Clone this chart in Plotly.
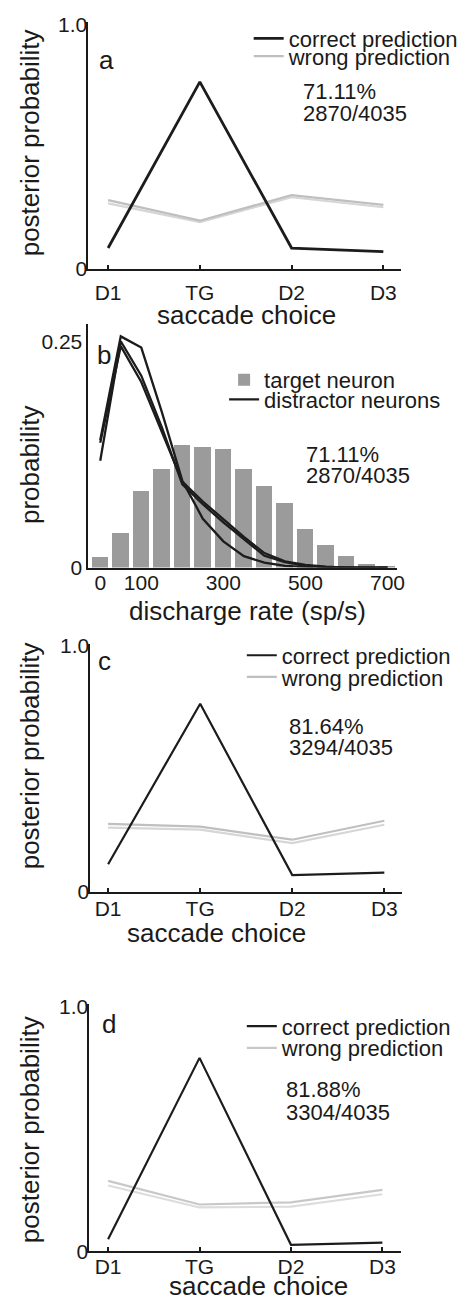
import plotly.graph_objects as go

W, H = 469, 1308
FONT = "Liberation Sans, Arial, sans-serif"
INK = "#1a1a1a"

# ---------------- data ----------------
choices = ["D1", "TG", "D2", "D3"]

a_correct = [0.085, 0.766, 0.085, 0.070]
a_wrong_hi = [0.281, 0.197, 0.302, 0.262]
a_wrong_lo = [0.268, 0.191, 0.293, 0.252]

rate_bins = [0, 50, 100, 150, 200, 250, 300, 350, 400, 450, 500, 550, 600, 650, 700]
target_neuron = [0.0116, 0.0384, 0.0848, 0.109, 0.136, 0.133, 0.131, 0.109, 0.0906,
                 0.0717, 0.0424, 0.0254, 0.013, 0.0036, 0.0015]
distractor_1 = [0.141, 0.2554, 0.243, 0.172, 0.096, 0.054, 0.029, 0.0127, 0.0054,
                0.002, 0.0008, 0.0, 0.0, 0.0, 0.0]
distractor_2 = [0.118, 0.250, 0.212, 0.155, 0.092, 0.070, 0.050, 0.031, 0.013,
                0.006, 0.002, 0.0005, 0.0, 0.0, 0.0]
distractor_3 = [0.138, 0.2446, 0.205, 0.150, 0.095, 0.073, 0.053, 0.034, 0.016,
                0.007, 0.003, 0.001, 0.0, 0.0, 0.0]
rate_ticks = [0, 100, 300, 500, 700]

c_correct = [0.111, 0.764, 0.067, 0.077]
c_wrong_hi = [0.275, 0.264, 0.211, 0.288]
c_wrong_lo = [0.260, 0.252, 0.197, 0.272]

d_correct = [0.050, 0.792, 0.027, 0.036]
d_wrong_hi = [0.289, 0.192, 0.201, 0.252]
d_wrong_lo = [0.270, 0.180, 0.183, 0.234]

stats_a = ["71.11%", "2870/4035"]
stats_b = ["71.11%", "2870/4035"]
stats_c = ["81.64%", "3294/4035"]
stats_d = ["81.88%", "3304/4035"]


def px(x):
    return x / W


def py(y):
    return 1 - y / H


fig = go.Figure()

# ---------------- panel a ----------------
fig.add_trace(go.Scatter(x=choices, y=a_wrong_lo, mode="lines", line=dict(color="#d6d6d6", width=2.2),
                         xaxis="x", yaxis="y", showlegend=False))
fig.add_trace(go.Scatter(x=choices, y=a_wrong_hi, mode="lines", line=dict(color="#bfbfbf", width=2.2),
                         xaxis="x", yaxis="y", name="wrong prediction", legend="legend2"))
fig.add_trace(go.Scatter(x=choices, y=a_correct, mode="lines", line=dict(color="#1c1c1c", width=2.8),
                         xaxis="x", yaxis="y", name="correct prediction", legend="legend"))

# ---------------- panel b ----------------
fig.add_trace(go.Bar(x=rate_bins, y=target_neuron, width=40, marker=dict(color="#9b9b9b", line=dict(width=0)),
                     xaxis="x2", yaxis="y2", name="target neuron", legend="legend3"))
for i, d in enumerate([distractor_1, distractor_2, distractor_3]):
    fig.add_trace(go.Scatter(x=rate_bins, y=d, mode="lines", line=dict(color="#1c1c1c", width=2.3),
                             xaxis="x2", yaxis="y2", name="distractor neurons", legend="legend4",
                             showlegend=(i == 0)))

# ---------------- panel c ----------------
fig.add_trace(go.Scatter(x=choices, y=c_wrong_lo, mode="lines", line=dict(color="#d6d6d6", width=2.2),
                         xaxis="x3", yaxis="y3", showlegend=False))
fig.add_trace(go.Scatter(x=choices, y=c_wrong_hi, mode="lines", line=dict(color="#bfbfbf", width=2.2),
                         xaxis="x3", yaxis="y3", name="wrong prediction", legend="legend6"))
fig.add_trace(go.Scatter(x=choices, y=c_correct, mode="lines", line=dict(color="#1c1c1c", width=2.2),
                         xaxis="x3", yaxis="y3", name="correct prediction", legend="legend5"))

# ---------------- panel d ----------------
fig.add_trace(go.Scatter(x=choices, y=d_wrong_lo, mode="lines", line=dict(color="#dcdcdc", width=2.2),
                         xaxis="x4", yaxis="y4", showlegend=False))
fig.add_trace(go.Scatter(x=choices, y=d_wrong_hi, mode="lines", line=dict(color="#c8c8c8", width=2.2),
                         xaxis="x4", yaxis="y4", name="wrong prediction", legend="legend8"))
fig.add_trace(go.Scatter(x=choices, y=d_correct, mode="lines", line=dict(color="#1c1c1c", width=2.2),
                         xaxis="x4", yaxis="y4", name="correct prediction", legend="legend7"))


def xax(domain, rng, anchor, standoff, **kw):
    d = dict(domain=domain, range=rng, anchor=anchor, showline=True, linecolor=INK, linewidth=2,
             showgrid=False, zeroline=False, ticks="inside", ticklen=4, tickwidth=1.5, tickcolor=INK,
             tickfont=dict(family=FONT, size=21, color=INK), ticklabelstandoff=standoff, fixedrange=True)
    d.update(kw)
    return d


def yax(domain, rng, anchor, tickvals, ticktext, standoff):
    return dict(domain=domain, range=rng, anchor=anchor, showline=True, linecolor=INK, linewidth=2,
                showgrid=False, zeroline=False, ticks="", ticklen=0, tickvals=tickvals, ticktext=ticktext,
                tickfont=dict(family=FONT, size=21, color=INK), ticklabelstandoff=standoff, fixedrange=True)


layout = dict(
    width=W, height=H, autosize=False, margin=dict(l=0, r=0, t=0, b=0),
    paper_bgcolor="white", plot_bgcolor="white", bargap=0,
    font=dict(family=FONT, color=INK),
    xaxis=xax([px(90), px(408)], [-0.214, 3.193], "y", 4, type="category"),
    yaxis=yax([py(263), py(12)], [0, 1.012], "x", [0, 1], ["0", "1.0"], -5),
    xaxis2=xax([px(90), px(404)], [-28.7, 723.4], "y2", -5, ticks="", tickvals=rate_ticks),
    yaxis2=yax([py(566.7), py(319)], [0, 0.2692], "x2", [0, 0.25], ["0", "0.25"], 0),
    xaxis3=xax([px(92), px(409)], [-0.192, 3.192], "y3", -3, type="category"),
    yaxis3=yax([py(896), py(644)], [0, 1.008], "x3", [0, 1], ["0", "1.0"], -5),
    xaxis4=xax([px(91), px(408)], [-0.204, 3.204], "y4", -5, type="category"),
    yaxis4=yax([py(1261.7), py(1010.7)], [0, 1.0105], "x4", [0, 1], ["0", "1.0"], -5),
)


def leg(x_text, y_center):
    return dict(x=px(x_text - 40), y=py(y_center), xanchor="left", yanchor="middle",
                bgcolor="rgba(0,0,0,0)", borderwidth=0, itemwidth=30,
                font=dict(family=FONT, size=22, color=INK))


layout["legend"] = leg(293, 29)
layout["legend2"] = leg(293, 47)
layout["legend3"] = leg(268, 376)
layout["legend4"] = leg(268, 396)
layout["legend5"] = leg(286, 656)
layout["legend6"] = leg(286, 678)
layout["legend7"] = leg(286, 1033)
layout["legend8"] = leg(286, 1055)

fig.update_layout(**layout)

ann = []


def text(t, x, y, size, xanchor="center", angle=0):
    ann.append(dict(text=t, x=px(x), y=py(y), xref="paper", yref="paper", showarrow=False,
                    xanchor=xanchor, yanchor="middle", textangle=angle,
                    font=dict(family=FONT, size=size, color=INK)))


# panel letters
text("a", 108, 51, 26)
text("b", 106, 351, 26)
text("c", 106, 662, 26)
text("d", 111, 1031, 26)

# stats
text(stats_a[0], 306, 83, 22, "left")
text(stats_a[1], 306, 105, 22, "left")
text(stats_b[0], 309, 452, 22, "left")
text(stats_b[1], 309, 473, 22, "left")
text(stats_c[0], 292, 728, 22, "left")
text(stats_c[1], 292, 750, 22, "left")
text(stats_d[0], 289, 1097, 22, "left")
text(stats_d[1], 289, 1120, 22, "left")

# axis titles
text("posterior probability", 30, 135, 26, angle=-90)
text("probability", 30, 462, 26, angle=-90)
text("posterior probability", 30, 758, 26, angle=-90)
text("posterior probability", 30, 1138, 26, angle=-90)
text("saccade choice", 251, 310, 26)
text("discharge rate (sp/s)", 252, 611, 26)
text("saccade choice", 220, 938, 26)
text("saccade choice", 263, 1297, 26)

fig.update_layout(annotations=ann)
fig.write_html("out.html", config={"displayModeBar": False})
